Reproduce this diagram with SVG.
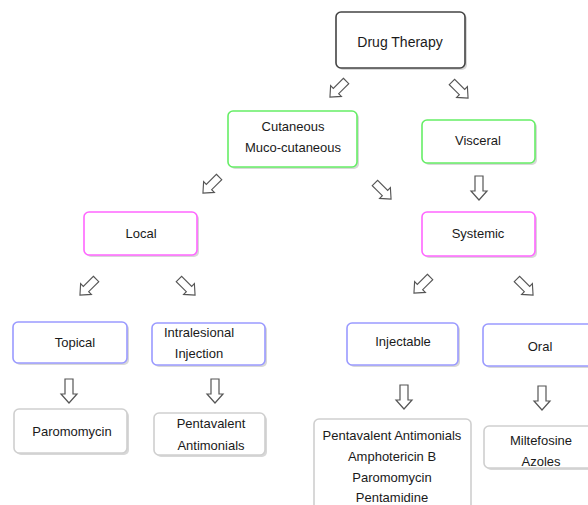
<svg xmlns="http://www.w3.org/2000/svg" width="588" height="505" viewBox="0 0 588 505">
<defs>
<style>
.box{fill:#fff;stroke-width:1.6}
.sh{fill:#d8d8d8}
.k{stroke:#444}
.g{stroke:#66ee66}
.m{stroke:#ff66ff}
.b{stroke:#9a9aff}
.l{stroke:#cfcfcf}
text{font-family:"Liberation Sans",Arial,sans-serif;font-size:13px;fill:#1a1a1a;text-anchor:middle}
.arr{fill:#fff;stroke:#555;stroke-width:1.2;stroke-linejoin:miter}
</style>
<path id="ar" d="M-4,-12 H4 V3 H8 L0,12 L-8,3 H-4 Z"/>
</defs>
<rect width="588" height="505" fill="#fff"/>

<g id="connectors">
<use href="#ar" class="arr" transform="translate(338,89) rotate(45) scale(0.95)"/>
<use href="#ar" class="arr" transform="translate(460,90) rotate(-45) scale(0.95)"/>
<use href="#ar" class="arr" transform="translate(211,185) rotate(45) scale(0.95)"/>
<use href="#ar" class="arr" transform="translate(383,191) rotate(-45) scale(0.95)"/>
<use href="#ar" class="arr" transform="translate(479,188)"/>
<use href="#ar" class="arr" transform="translate(88,287) rotate(45) scale(0.95)"/>
<use href="#ar" class="arr" transform="translate(187,287) rotate(-45) scale(0.95)"/>
<use href="#ar" class="arr" transform="translate(422,285) rotate(45) scale(0.95)"/>
<use href="#ar" class="arr" transform="translate(525,287) rotate(-45) scale(0.95)"/>
<use href="#ar" class="arr" transform="translate(69,391)"/>
<use href="#ar" class="arr" transform="translate(215,391)"/>
<use href="#ar" class="arr" transform="translate(404,397)"/>
<use href="#ar" class="arr" transform="translate(542,398)"/>
</g>

<g id="drug-therapy">
<rect class="sh" x="338" y="14" width="129" height="56" rx="5"/>
<rect class="box k" x="336" y="12" width="129" height="56" rx="5"/>
<text x="400" y="47" style="font-size:14px">Drug Therapy</text>
</g>

<g id="cutaneous">
<rect class="sh" x="230" y="113" width="129" height="56" rx="5"/>
<rect class="box g" x="228" y="111" width="129" height="56" rx="5"/>
<text x="293" y="131">Cutaneous</text>
<text x="293" y="152">Muco-cutaneous</text>
</g>

<g id="visceral">
<rect class="sh" x="424" y="122" width="113" height="43" rx="5"/>
<rect class="box g" x="422" y="120" width="113" height="43" rx="5"/>
<text x="478" y="145">Visceral</text>
</g>

<g id="local">
<rect class="sh" x="86" y="214" width="113" height="43" rx="5"/>
<rect class="box m" x="84" y="212" width="113" height="43" rx="5"/>
<text x="141" y="238">Local</text>
</g>

<g id="systemic">
<rect class="sh" x="424" y="214" width="113" height="44" rx="5"/>
<rect class="box m" x="422" y="212" width="113" height="44" rx="5"/>
<text x="478" y="238">Systemic</text>
</g>

<g id="topical">
<rect class="sh" x="15" y="324" width="114" height="41" rx="5"/>
<rect class="box b" x="13" y="322" width="114" height="41" rx="5"/>
<text x="75" y="347">Topical</text>
</g>

<g id="intralesional">
<rect class="sh" x="154" y="325" width="113" height="42" rx="5"/>
<rect class="box b" x="152" y="323" width="113" height="42" rx="5"/>
<text x="199" y="337">Intralesional</text>
<text x="199" y="358">Injection</text>
</g>

<g id="injectable">
<rect class="sh" x="349" y="325" width="111" height="42" rx="5"/>
<rect class="box b" x="347" y="323" width="111" height="42" rx="5"/>
<text x="403" y="346">Injectable</text>
</g>

<g id="oral">
<rect class="sh" x="485" y="326" width="110" height="42" rx="5"/>
<rect class="box b" x="483" y="324" width="110" height="42" rx="5"/>
<text x="540" y="351">Oral</text>
</g>

<g id="paromomycin">
<rect class="sh" x="16" y="411" width="113" height="44" rx="5"/>
<rect class="box l" x="14" y="409" width="113" height="44" rx="5"/>
<text x="72" y="436">Paromomycin</text>
</g>

<g id="pentavalent">
<rect class="sh" x="156" y="415" width="111" height="42" rx="5"/>
<rect class="box l" x="154" y="413" width="111" height="42" rx="5"/>
<text x="211" y="428">Pentavalent</text>
<text x="211" y="450">Antimonials</text>
</g>

<g id="injectable-drugs">
<rect class="box l" x="314" y="419" width="157" height="100" rx="5"/>
<text x="392" y="440">Pentavalent Antimonials</text>
<text x="392" y="461">Amphotericin B</text>
<text x="392" y="482">Paromomycin</text>
<text x="392" y="502">Pentamidine</text>
</g>

<g id="oral-drugs">
<rect class="sh" x="486" y="428" width="110" height="42" rx="5"/>
<rect class="box l" x="484" y="426" width="110" height="42" rx="5"/>
<text x="541" y="445">Miltefosine</text>
<text x="541" y="466">Azoles</text>
</g>
</svg>
